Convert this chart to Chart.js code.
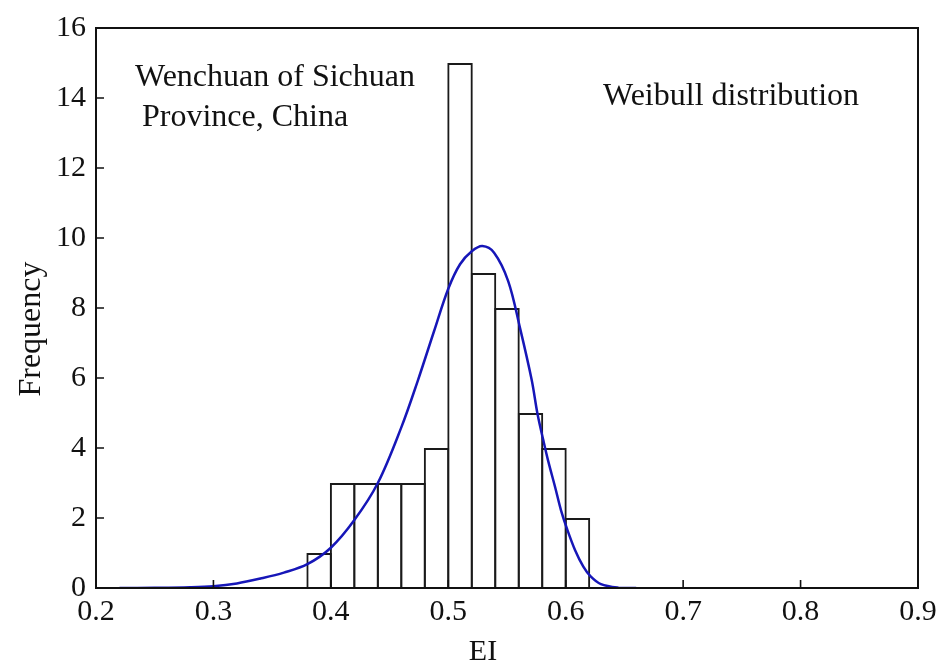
<!DOCTYPE html>
<html><head><meta charset="utf-8">
<script src="https://cdn.jsdelivr.net/npm/chart.js@4.4.0/dist/chart.umd.min.js"></script>
<style>html,body{margin:0;padding:0;background:#fff;}#wrap{width:943px;height:668px;}</style>
</head><body><div id="wrap"><canvas id="c" width="943" height="668"></canvas></div>
<script>
// Histogram bins (centres, width 0.02) and counts
const binCenters = [0.39, 0.41, 0.43, 0.45, 0.47, 0.49, 0.51, 0.53, 0.55, 0.57, 0.59, 0.61];
const binCounts  = [1, 3, 3, 3, 3, 4, 15, 9, 8, 5, 4, 2];
// Fitted Weibull curve
const curveX = [0.22,0.25,0.28,0.30,0.32,0.34,0.36,0.38,0.40,0.42,0.44,0.46,0.474,0.488,0.50,0.51,0.52,0.529,0.539,0.551,0.561,0.571,0.576,0.581,0.585,0.591,0.596,0.601,0.608,0.615,0.621,0.630,0.645,0.66];
const curveY = [0.00,0.005,0.02,0.05,0.13,0.27,0.44,0.68,1.15,1.94,3.00,4.59,5.92,7.35,8.55,9.25,9.62,9.77,9.58,8.77,7.44,5.95,4.97,4.21,3.64,2.88,2.22,1.70,1.08,0.61,0.34,0.11,0.01,0.00];
const xTicks = [0.2, 0.3, 0.4, 0.5, 0.6, 0.7, 0.8, 0.9];
const yTicks = [0, 2, 4, 6, 8, 10, 12, 14, 16];
const xTitle = 'EI';
const yTitle = 'Frequency';
const note1 = ['Wenchuan of Sichuan', 'Province, China'];
const note2 = 'Weibull distribution';

const SERIF = '"Liberation Serif", "DejaVu Serif", serif';
const BAR_BORDER = 2;

const framePlugin = {
  id: 'frame',
  afterDraw(chart) {
    const {ctx, chartArea: a, scales} = chart;
    ctx.save();
    ctx.strokeStyle = '#111';
    ctx.lineWidth = 2;
    ctx.strokeRect(a.left, a.top, a.right - a.left, a.bottom - a.top);
    ctx.lineWidth = 1.6;
    ctx.beginPath();
    yTicks.forEach(v => {
      if (v === yTicks[0] || v === yTicks[yTicks.length - 1]) return;
      const y = scales.y.getPixelForValue(v);
      ctx.moveTo(a.left, y); ctx.lineTo(a.left + 8, y);
    });
    xTicks.forEach(v => {
      if (v === xTicks[0] || v === xTicks[xTicks.length - 1]) return;
      const x = scales.x.getPixelForValue(v);
      ctx.moveTo(x, a.bottom); ctx.lineTo(x, a.bottom - 8);
    });
    ctx.stroke();
    // texts
    ctx.fillStyle = '#111';
    ctx.font = '32px ' + SERIF;
    ctx.textAlign = 'left';
    ctx.textBaseline = 'alphabetic';
    ctx.fillText(note1[0], a.left + 39, a.top + 58);
    ctx.fillText(note1[1], a.left + 46, a.top + 98);
    ctx.fillText(note2, a.left + 507, a.top + 77);
    // axis titles
    ctx.font = '30px ' + SERIF;
    ctx.textAlign = 'center';
    ctx.fillText(xTitle, a.left + 387, a.bottom + 72);
    ctx.save();
    ctx.translate(40, a.top + 301);
    ctx.rotate(-Math.PI / 2);
    ctx.font = '32px ' + SERIF;
    ctx.fillText(yTitle, 0, 0);
    ctx.restore();
    ctx.restore();
  }
};

const chart = new Chart(document.getElementById('c'), {
  data: {
    datasets: [
      {
        type: 'line',
        label: 'Weibull fit',
        data: curveX.map((x, i) => ({x, y: curveY[i]})),
        borderColor: '#1616b8',
        borderWidth: 2.5,
        pointRadius: 0,
        fill: false,
        tension: 0.35,
        order: 0
      },
      {
        type: 'bar',
        label: 'Frequency',
        data: binCenters.map((x, i) => ({x, y: binCounts[i]})),
        backgroundColor: 'rgba(255,255,255,0)',
        borderColor: '#1a1a1a',
        borderWidth: BAR_BORDER,
        barPercentage: 1.085,
        categoryPercentage: 1,
        order: 1
      }
    ]
  },
  options: {
    responsive: false,
    animation: false,
    layout: {padding: {left: 0, right: 25, top: 26, bottom: 0}},
    plugins: {legend: {display: false}, tooltip: {enabled: false}},
    scales: {
      x: {
        type: 'linear', min: 0.2, max: 0.9, offset: false,
        afterBuildTicks: s => { s.ticks = xTicks.map(v => ({value: v})); },
        ticks: {callback: v => v.toFixed(1), color: '#111', padding: 6, font: {family: SERIF, size: 30}, maxRotation: 0},
        grid: {display: false, drawTicks: false, offset: false},
        border: {display: false},
        afterFit: s => { s.height = 80; }
      },
      y: {
        type: 'linear', min: 0, max: 16,
        afterBuildTicks: s => { s.ticks = yTicks.map(v => ({value: v})); },
        ticks: {color: '#111', padding: 10, font: {family: SERIF, size: 30}},
        grid: {display: false, drawTicks: false},
        border: {display: false},
        afterFit: s => { s.width = 96; }
      }
    }
  },
  plugins: [framePlugin]
});
</script></body></html>
